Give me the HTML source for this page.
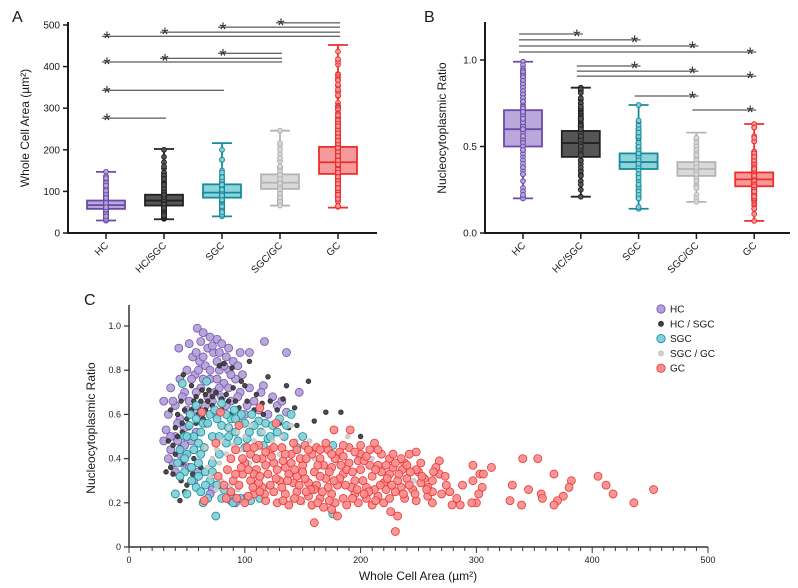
<!DOCTYPE html>
<html><head><meta charset="utf-8">
<style>
html,body{margin:0;padding:0;background:#fff;}
svg{display:block;font-family:"Liberation Sans",sans-serif;}
</style></head>
<body>
<svg id="fig" width="798" height="588" viewBox="0 0 798 588"></svg>
<script>
// ---------- data ----------
const categories = ["HC","HC/SGC","SGC","SGC/GC","GC"];
const areaQ1 = [58,66,85,106,142];
const areaMed = [67,78,97,121,170];
const areaQ3 = [78,92,117,141,207];
const areaMin = [30,33,40,66,61];
const areaMax = [147,202,216,246,452];
const ratioQ1 = [0.50,0.44,0.37,0.33,0.27];
const ratioMed = [0.60,0.52,0.41,0.37,0.31];
const ratioQ3 = [0.71,0.59,0.46,0.41,0.35];
const ratioMin = [0.20,0.21,0.14,0.18,0.07];
const ratioMax = [0.99,0.84,0.74,0.58,0.63];
const areaTicks = [0,100,200,300,400,500];
const ratioTicks = ["0.0","0.5","1.0"];
const scatterYTicks = ["0","0.2","0.4","0.6","0.8","1.0"];
const scatterXTicks = [0,100,200,300,400,500];
// significance comparisons [from, to, level]
const sigA = [[0,1,276],[0,2,343],[0,3,411],[1,3,420],[2,3,432],[0,4,473],[1,4,483],[2,4,495],[3,4,505]];
const sigB = [[0,1,1.15],[0,2,1.116],[0,3,1.081],[0,4,1.046],[1,2,0.965],[1,3,0.936],[1,4,0.907],[2,3,0.792],[3,4,0.711]];

const hcPts = [[59,0.99],[64,0.97],[70,0.95],[76,0.94],[80,0.92],[117,0.93],[136,0.88],[96,0.88],[104,0.88],[43,0.9],[52,0.92],[68,0.90],[73,0.88],[84,0.86],[90,0.84],[55,0.86],[61,0.84],[66,0.82],[78,0.80],[86,0.80],[94,0.82],[50,0.80],[44,0.76],[57,0.78],[70,0.76],[82,0.74],[92,0.76],[98,0.78],[36,0.72],[48,0.70],[62,0.72],[74,0.70],[104,0.72],[116,0.73],[147,0.70],[30,0.66],[40,0.64],[52,0.66],[66,0.64],[88,0.66],[108,0.66],[124,0.68],[128,0.64],[34,0.60],[44,0.58],[56,0.62],[100,0.60],[120,0.60],[136,0.61],[32,0.53],[40,0.50],[48,0.54],[36,0.44],[44,0.42],[38,0.38],[48,0.46],[52,0.36],[60,0.34],[72,0.26],[70,0.24],[88,0.21],[92,0.20],[100,0.22],[58,0.52],[54,0.48],[96,0.70],[112,0.62],[80,0.68],[66,0.56],[75,0.60],
[62,0.93],[72,0.91],[78,0.88],[86,0.90],[58,0.88],[64,0.86],[76,0.84],[82,0.82],[70,0.80],[60,0.80],[88,0.78],[54,0.76],[64,0.76],[76,0.76],[86,0.72],[58,0.70],[68,0.68],[78,0.72],[94,0.68],[46,0.68],[38,0.66],[50,0.62],[42,0.56],[36,0.50],[30,0.48],[42,0.48],[34,0.40],[46,0.38],[56,0.30],[40,0.34],[102,0.64],[114,0.70],[132,0.66],[84,0.64],[72,0.66],[62,0.60]];
const hcSgcPts = [[104,0.84],[78,0.82],[82,0.83],[89,0.81],[120,0.77],[155,0.75],[97,0.75],[47,0.78],[54,0.73],[63,0.71],[69,0.71],[75,0.70],[84,0.69],[90,0.72],[100,0.73],[110,0.69],[136,0.73],[122,0.66],[133,0.67],[143,0.63],[45,0.66],[56,0.66],[60,0.63],[66,0.62],[72,0.64],[80,0.62],[88,0.60],[95,0.63],[115,0.65],[128,0.62],[170,0.61],[183,0.61],[160,0.57],[145,0.55],[138,0.54],[200,0.5],[36,0.62],[42,0.60],[50,0.58],[58,0.56],[64,0.58],[40,0.54],[46,0.52],[52,0.50],[34,0.48],[38,0.46],[44,0.45],[50,0.42],[36,0.36],[32,0.34],[38,0.33],[45,0.30],[50,0.28],[48,0.25],[44,0.21],[56,0.40],[62,0.36],[55,0.33],
[58,0.68],[66,0.69],[72,0.68],[80,0.67],[86,0.66],[92,0.66],[102,0.66],[108,0.62],[62,0.66],[68,0.66],[48,0.62],[54,0.62],[46,0.56],[52,0.54],[40,0.42],[46,0.38],[42,0.50],[60,0.60],[116,0.60],[130,0.56]];
const sgcPts = [[46,0.74],[67,0.75],[58,0.64],[80,0.65],[91,0.62],[97,0.60],[76,0.58],[70,0.60],[64,0.56],[52,0.55],[48,0.50],[56,0.50],[60,0.47],[44,0.44],[50,0.42],[42,0.38],[48,0.34],[54,0.30],[58,0.27],[62,0.25],[68,0.22],[75,0.14],[40,0.24],[65,0.45],[72,0.50],[80,0.55],[86,0.54],[88,0.58],[106,0.60],[112,0.57],[118,0.56],[124,0.55],[130,0.58],[136,0.55],[140,0.6],[120,0.49],[102,0.49],[96,0.22],[105,0.21],[113,0.22],[176,0.46],[200,0.41],[176,0.15],[110,0.40],[100,0.45],[92,0.52],[84,0.47],[78,0.42],[72,0.38],[66,0.34],[60,0.38],[70,0.30],[76,0.28],[82,0.26],[88,0.24],[53,0.60],[62,0.52],[150,0.5],[96,0.56],[122,0.5],[145,0.45],
[74,0.62],[84,0.60],[92,0.58],[100,0.56],[108,0.55],[114,0.52],[68,0.56],[58,0.58],[50,0.50],[56,0.44],[62,0.42],[48,0.40],[54,0.36],[60,0.32],[66,0.28],[72,0.34],[78,0.50],[86,0.50],[94,0.48],[104,0.52],[128,0.52],[134,0.50],[116,0.46],[44,0.32],[50,0.24],[64,0.20],[80,0.22],[90,0.20]];
const sgcGcPts = [[86,0.54],[94,0.52],[100,0.50],[108,0.48],[116,0.52],[124,0.48],[132,0.5],[144,0.48],[156,0.48],[172,0.45],[189,0.50],[210,0.40],[216,0.35],[200,0.30],[80,0.48],[76,0.44],[72,0.40],[78,0.38],[84,0.42],[90,0.46],[96,0.44],[104,0.38],[68,0.36],[70,0.32],[80,0.30],[88,0.28],[94,0.26],[110,0.32],[120,0.27],[140,0.22],[150,0.20],[158,0.18],[130,0.42],[160,0.40],[180,0.38],[140,0.55],[105,0.55],[85,0.34],[75,0.26],[246,0.3],[66,0.45]];
const gcPts = [[230,0.07],[160,0.11],[405,0.32],[412,0.28],[418,0.24],[436,0.2],[453,0.26],[340,0.4],[353,0.4],[367,0.33],[382,0.3],[380,0.27],[375,0.23],[370,0.21],[367,0.19],[339,0.19],[345,0.26],[356,0.24],[357,0.22],[329,0.21],[331,0.28],[313,0.36],[297,0.37],[297,0.3],[303,0.33],[306,0.33],[305,0.27],[302,0.24],[300,0.2],[296,0.2],[288,0.28],[286,0.19],[279,0.19],[277,0.25],[268,0.33],[273,0.32],[268,0.39],[274,0.28],[283,0.22],[262,0.2],[265,0.36],[262,0.3],[255,0.31],[252,0.38],[242,0.42],[248,0.43],[236,0.35],[235,0.27],[232,0.14],[226,0.16],[220,0.2],[212,0.47],[208,0.44],[218,0.42],[200,0.42],[191,0.53],[177,0.53],[175,0.17],[180,0.14],[127,0.56],[113,0.63],[95,0.55],[79,0.61],[63,0.61],[75,0.47],[77,0.32],[65,0.21],[84,0.22],[88,0.25],
[100,0.38],[105,0.42],[110,0.35],[115,0.40],[120,0.33],[125,0.38],[130,0.30],[135,0.36],[140,0.42],[145,0.32],[150,0.37],[155,0.29],[160,0.34],[165,0.40],[170,0.31],[175,0.36],[180,0.28],[185,0.33],[190,0.38],[195,0.30],[200,0.35],[205,0.27],[210,0.32],[215,0.37],[220,0.29],[225,0.33],[230,0.25],[240,0.31],[245,0.26],[250,0.34],[258,0.27],[225,0.40],[215,0.23],[205,0.22],[195,0.24],[185,0.22],[175,0.24],[165,0.22],[155,0.23],[145,0.25],[135,0.24],[125,0.25],[115,0.27],[105,0.30],[98,0.33],[92,0.44],[88,0.40],[95,0.28],[102,0.45],[112,0.46],[122,0.44],[132,0.45],[142,0.47],[152,0.46],[162,0.45],[172,0.44],[182,0.43],[108,0.24],[118,0.21],[128,0.20],[138,0.19],[148,0.21],[158,0.19],[168,0.18],[178,0.20],[188,0.19],[198,0.20],[210,0.19],[225,0.22],[238,0.22],[248,0.21],[258,0.23],[148,0.40],[158,0.42],[168,0.37],[178,0.40],[188,0.35],[198,0.39],[208,0.37],[218,0.34],[228,0.36],[238,0.38],[248,0.35],[138,0.33],[128,0.35],[118,0.37],[108,0.33],[98,0.40],[112,0.29],[122,0.28],[132,0.27],[142,0.29],[152,0.31],[162,0.28],[172,0.27],[182,0.31],[192,0.27],[202,0.30],[212,0.26],[222,0.26],[232,0.30],[242,0.28],[252,0.29],[262,0.25],[270,0.24],[85,0.35],[90,0.30],[82,0.28],[93,0.22],[100,0.20],[110,0.40],[160,0.26],[170,0.47],[190,0.45],[200,0.46],[140,0.38],[150,0.34],[155,0.44],[165,0.32],[185,0.41],
[103,0.35],[113,0.32],[123,0.41],[133,0.39],[143,0.35],[153,0.40],[163,0.37],[173,0.34],[183,0.37],[193,0.34],[203,0.39],[213,0.35],[223,0.31],[233,0.33],[243,0.34],[253,0.32],[263,0.34],[117,0.24],[127,0.31],[137,0.30],[147,0.28],[157,0.26],[167,0.25],[177,0.30],[187,0.28],[197,0.26],[207,0.25],[217,0.28],[227,0.28],[237,0.24],[247,0.24],[257,0.26],[107,0.27],[97,0.36],[92,0.33],[103,0.23],[113,0.25],[133,0.21],[143,0.22],[153,0.25],[163,0.20],[173,0.21],[193,0.22],[203,0.24],[213,0.21],[195,0.43],[205,0.41],[215,0.44],[228,0.42],[235,0.40],[145,0.44],[135,0.42],[125,0.45],[118,0.43],[108,0.45],[175,0.42],[185,0.46],[165,0.44],[240,0.37],[230,0.38],[222,0.37]];

// ---------- helpers ----------
const NS = "http://www.w3.org/2000/svg";
const svg = document.getElementById("fig");
function mk(tag, attrs, parent, text){
  const e = document.createElementNS(NS, tag);
  for (const k in attrs) e.setAttribute(k, attrs[k]);
  if (text !== undefined) e.textContent = text;
  (parent || svg).appendChild(e);
  return e;
}
function grp(name){
  const g = mk("g", {});
  
  
  return g;
}
const fills = ["#b9a8d9","#555555","#8dd3da","#d9d9d9","#f59a9a"];
const strokes = ["#6b4aa9","#222222","#178b9b","#b4b4b4","#ee2d2d"];
const groups = [hcPts, hcSgcPts, sgcPts, sgcGcPts, gcPts];
const INK = "#1a1a1a";

const aX = i => 106 + i*58;
const aY = v => 233 - v*0.416;
const bX = i => 523 + i*57.8;
const bY = v => 233 - v*173;
const cX = v => 129 + v*1.158;
const cY = v => 547 - v*221;

[["A",12,22],["B",424,22],["C",84,305]].forEach(p=>{
  const t = mk("text",{x:p[1],y:p[2],"font-size":16,fill:INK},svg,p[0]);
  
  
});

function boxPanel(name, xf, yf, q1, med, q3, mn, mx, valIdx, ticks, tickFmt, axisLeft, axisRight, ylabel, ylabelX, sig, starLeft){
  const g = grp(name);
  const ax = mk("path",{d:`M${axisLeft},22 V233 H${axisRight}`,fill:"none",stroke:INK,"stroke-width":2},g);
   
  ticks.forEach(t=>{
    const v = parseFloat(t);
    mk("line",{x1:axisLeft-5,x2:axisLeft,y1:yf(v),y2:yf(v),stroke:INK,"stroke-width":1.5},g);
    const lt = mk("text",{x:axisLeft-8,y:yf(v)+3.5,"font-size":10,"text-anchor":"end",fill:INK},g,tickFmt(t));
     
  });
  const yl = mk("text",{x:0,y:0,"font-size":12,"text-anchor":"middle",fill:INK,transform:`translate(${ylabelX},128) rotate(-90)`},g,ylabel);
   
  categories.forEach((c,i)=>{
    const x = xf(i);
    mk("line",{x1:x,x2:x,y1:233,y2:239,stroke:INK,"stroke-width":1.5},g);
    const t = mk("text",{x:0,y:0,"font-size":10,"text-anchor":"end",fill:INK,transform:`translate(${x+3},246) rotate(-45)`},g,c);
     
    const bg = mk("g",{},g);
    
    
    const f = fills[i], s = strokes[i];
    mk("line",{x1:x,x2:x,y1:yf(mx[i]),y2:yf(mn[i]),stroke:s,"stroke-width":1.8},bg);
    mk("line",{x1:x-10,x2:x+10,y1:yf(mx[i]),y2:yf(mx[i]),stroke:s,"stroke-width":1.8},bg);
    mk("line",{x1:x-10,x2:x+10,y1:yf(mn[i]),y2:yf(mn[i]),stroke:s,"stroke-width":1.8},bg);
    mk("rect",{x:x-19,y:yf(q3[i]),width:38,height:yf(q1[i])-yf(q3[i]),fill:f,stroke:s,"stroke-width":1.8},bg);
    mk("line",{x1:x-19,x2:x+19,y1:yf(med[i]),y2:yf(med[i]),stroke:s,"stroke-width":1.8},bg);
    groups[i].forEach(p=>{
      const v = p[valIdx];
      if (v < mn[i] || v > mx[i]) return;
      mk("circle",{cx:x,cy:yf(v),r:2.4,fill:f,stroke:s,"stroke-width":1,"fill-opacity":0.9},bg);
    });
  });
  sig.forEach(sg=>{
    const x1 = xf(sg[0]) - 4, x2 = xf(sg[1]) + 2, y = yf(sg[2]);
    const sl = mk("line",{x1:x1,x2:x2,y1:y,y2:y,stroke:"#333","stroke-width":1},g);
     
    const sx = starLeft ? x1+5 : x2-6;
    mk("text",{x:sx,y:y+9,"font-size":19,"text-anchor":"middle",fill:"#333"},g,"*");
  });
}
boxPanel("panel-a-area-boxplot", aX, aY, areaQ1, areaMed, areaQ3, areaMin, areaMax, 0,
  areaTicks.map(String), t=>t, 68, 377, "Whole Cell Area (µm²)", 29, sigA, true);
boxPanel("panel-b-ratio-boxplot", bX, bY, ratioQ1, ratioMed, ratioQ3, ratioMin, ratioMax, 1,
  ratioTicks, t=>t, 485, 790, "Nucleocytoplasmic Ratio", 446, sigB, false);

// ---------- panel C scatter ----------
const gc = grp("panel-c-scatter");
const cax = mk("path",{d:`M129,305 V547 H708`,fill:"none",stroke:"#333","stroke-width":1.5},gc);
 
scatterYTicks.forEach(t=>{
  const y = cY(parseFloat(t));
  mk("line",{x1:124,x2:129,y1:y,y2:y,stroke:"#333","stroke-width":1.2},gc);
  const lt = mk("text",{x:121,y:y+3,"font-size":9,"text-anchor":"end",fill:INK},gc,t);
   
});
for (let v=0; v<=500; v+=10){
  const major = v%100===0;
  mk("line",{x1:cX(v),x2:cX(v),y1:547,y2:major?553:551,stroke:"#333","stroke-width":1},gc);
}
scatterXTicks.forEach(v=>{
  const lt = mk("text",{x:cX(v),y:563,"font-size":9,"text-anchor":"middle",fill:INK},gc,String(v));
   
});
const cxl = mk("text",{x:418,y:580,"font-size":12,"text-anchor":"middle",fill:INK},gc,"Whole Cell Area (µm²)");
 
const cyl = mk("text",{x:0,y:0,"font-size":12,"text-anchor":"middle",fill:INK,transform:"translate(95,428) rotate(-90)"},gc,"Nucleocytoplasmic Ratio");
 

const radii = [4,2.3,4,2.3,4];
const sFills = ["#b29fd6","#3d3d3d","#7fd0d8","#cfcfcf","#f78c8c"];
const sStrokes = ["#7654b0","#2a2a2a","#168a98","#bdbdbd","#ee3333"];
groups.forEach((pts,i)=>{
  const sg = mk("g",{},gc);
  
  
  pts.forEach(p=>{
    mk("circle",{cx:cX(p[0]),cy:cY(p[1]),r:radii[i],fill:sFills[i],stroke:sStrokes[i],"stroke-width":0.8,"fill-opacity":0.92},sg);
  });
});
const legNames = ["HC","HC / SGC","SGC","SGC / GC","GC"];
const lg = mk("g",{},gc);


legNames.forEach((n,i)=>{
  const y = 309 + i*14.8;
  const e = mk("g",{},lg);
  
  
  mk("circle",{cx:661,cy:y,r:radii[i]+0.2,fill:sFills[i],stroke:sStrokes[i],"stroke-width":0.8},e);
  mk("text",{x:670,y:y+3.5,"font-size":10,fill:INK},e,n);
});
</script>
</body></html>
